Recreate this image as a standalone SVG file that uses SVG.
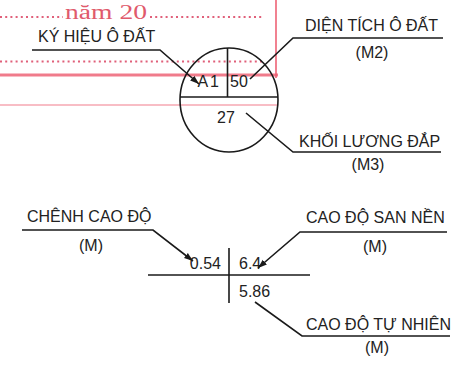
<svg xmlns="http://www.w3.org/2000/svg" width="462" height="371" viewBox="0 0 462 371">
<style>
.t{font-family:"Liberation Sans",Arial,sans-serif;font-size:16px;fill:#222}
.m{text-anchor:middle}
.e{text-anchor:end}
.ln{fill:none;stroke:#1a1a1a;stroke-width:1.6}
.red{fill:none;stroke:#ec5a6e}
.dot{fill:none;stroke:#e0607a;stroke-width:2.2;stroke-dasharray:2 3.2}
</style>
<defs>
<marker id="ar" markerUnits="userSpaceOnUse" markerWidth="10" markerHeight="8" refX="9" refY="4" orient="auto">
<path d="M0,0.8 L9,4 L0,7.2 Z" fill="#1a1a1a"/>
</marker>
</defs>
<g id="form-background">
<text x="65" y="19" font-family="Liberation Serif,'Times New Roman',serif" font-size="20" fill="#e05a6c" textLength="82" lengthAdjust="spacingAndGlyphs">năm 20</text>
<line class="dot" x1="0" y1="17" x2="63" y2="17"/>
<line class="dot" x1="150" y1="17" x2="262" y2="17"/>
<line class="dot" x1="0" y1="61.5" x2="264" y2="61.5"/>
<line class="red" x1="0" y1="75" x2="278" y2="75" stroke-width="3" stroke-opacity="0.8"/>
<line class="red" x1="0" y1="105" x2="278" y2="105" stroke-width="1.2" stroke-opacity="0.8"/>
<line class="red" x1="276" y1="0" x2="276" y2="78" stroke-width="1.8" stroke-opacity="0.85"/>
</g>
<g id="lot-symbol">
<ellipse cx="229" cy="100" rx="49" ry="52" class="ln" stroke-width="1.8"/>
<line class="ln" x1="180" y1="97" x2="278" y2="97"/>
<line class="ln" x1="227.5" y1="48" x2="227.5" y2="97"/>
<text class="t e" x="221" y="87" letter-spacing="2">A1</text>
<text class="t" x="230" y="87">50</text>
<text class="t m" x="226" y="123">27</text>
</g>
<g id="elevation-symbol">
<line class="ln" x1="148" y1="275" x2="310" y2="275"/>
<line class="ln" x1="229" y1="248" x2="229" y2="303"/>
<text class="t e" x="221" y="269">0.54</text>
<text class="t" x="239" y="269">6.4</text>
<text class="t" x="239" y="297">5.86</text>
</g>
<g id="label-ky-hieu">
<text class="t" x="38" y="42">KÝ HIỆU Ô ĐẤT</text>
</g>
<g id="label-dien-tich">
<text class="t" x="305" y="31">DIỆN TÍCH Ô ĐẤT</text>
<text class="t m" x="372" y="58">(M2)</text>
</g>
<g id="label-khoi-luong">
<text class="t" x="299" y="147">KHỐI LƯƠNG ĐẮP</text>
<text class="t m" x="368" y="170">(M3)</text>
</g>
<g id="label-chenh">
<text class="t" x="27" y="222">CHÊNH CAO ĐỘ</text>
<text class="t m" x="91" y="251">(M)</text>
</g>
<g id="label-san-nen">
<text class="t" x="306" y="223">CAO ĐỘ SAN NỀN</text>
<text class="t m" x="375" y="252">(M)</text>
</g>
<g id="label-tu-nhien">
<text class="t" x="306" y="330">CAO ĐỘ TỰ NHIÊN</text>
<text class="t m" x="377" y="353">(M)</text>
</g>
<g id="connectors">
<polyline class="ln" points="32,50 160,50 199,84" marker-end="url(#ar)"/>
<polyline class="ln" points="443,38 293,38 250,79"/>
<polyline class="ln" points="441,152 293,152 246,113"/>
<polyline class="ln" points="22,230 153,230 193,261" marker-end="url(#ar)"/>
<polyline class="ln" points="447,232 300,232 258,268" marker-end="url(#ar)"/>
<polyline class="ln" points="450,336 302,336 255,302"/>
</g>
</svg>
